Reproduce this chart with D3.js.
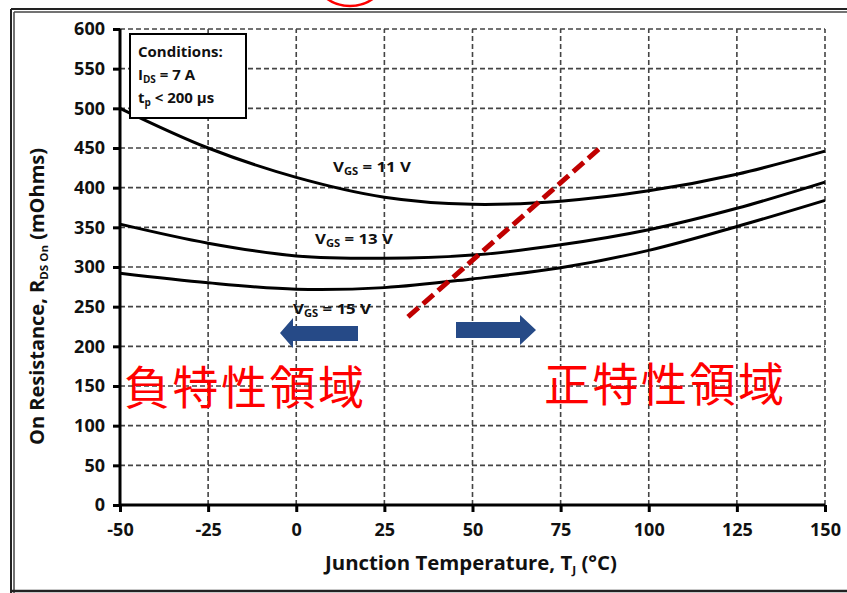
<!DOCTYPE html>
<html>
  <head>
    <meta charset="utf-8">
    <title>On Resistance vs Junction Temperature</title>
    <script src="https://d3js.org/d3.v7.min.js"></script>
  </head>
  <style>
    body { margin: 0; background: #fff; }
    .grid line { stroke: #444; stroke-width: 1.6; stroke-dasharray: 5,3; }
    .tick-label { font-family: "Open Sans", sans-serif; font-weight: bold; font-size: 18px; fill: #111; }
    .curve { fill: none; stroke: #000; stroke-width: 3; }
    .lbl { font-family: "Open Sans", sans-serif; font-weight: bold; font-size: 15px; fill: #111; }
    .title { font-family: "Open Sans", sans-serif; font-weight: bold; font-size: 19px; fill: #111; }
    .jp { font-family: "Noto Sans CJK JP", sans-serif; font-size: 46px; fill: #ff0000; }
  </style>
  <body>
    <script type="text/javascript">
        var width = 847;
        var height = 593;

        // data
        const temps = [-50, -25, 0, 25, 50, 75, 100, 125, 150];
        const vgs11 = [500, 450, 413, 388, 379, 383, 396, 417, 446];
        const vgs13 = [354, 330, 314, 311, 315, 328, 347, 374, 407];
        const vgs15 = [292, 280, 272, 274, 285, 299, 321, 351, 384];
        const yTicks = [0, 50, 100, 150, 200, 250, 300, 350, 400, 450, 500, 550, 600];
        const xTicks = [-50, -25, 0, 25, 50, 75, 100, 125, 150];
        const boundary = [[31.7, 237], [86.2, 450]];

        const svg = d3.select('body').append('svg').attr('width', width).attr('height', height);

        const x = d3.scaleLinear().domain([-50, 150]).range([120, 825]);
        const y = d3.scaleLinear().domain([0, 600]).range([505, 29]);

        // red mark cut at the top
        svg.append('ellipse').attr('cx', 350).attr('cy', -18).attr('rx', 32).attr('ry', 24)
          .attr('fill', 'none').attr('stroke', '#ff0000').attr('stroke-width', 2.5);

        // outer frame
        svg.append('line').attr('x1', 11).attr('x2', 847).attr('y1', 9).attr('y2', 9).attr('stroke', '#222').attr('stroke-width', 2);
        svg.append('line').attr('x1', 14).attr('x2', 847).attr('y1', 12).attr('y2', 12).attr('stroke', '#444').attr('stroke-width', 1.5);
        svg.append('line').attr('x1', 11).attr('x2', 11).attr('y1', 9).attr('y2', 593).attr('stroke', '#222').attr('stroke-width', 2);
        svg.append('line').attr('x1', 14).attr('x2', 14).attr('y1', 12).attr('y2', 593).attr('stroke', '#444').attr('stroke-width', 1.5);
        svg.append('line').attr('x1', 11).attr('x2', 847).attr('y1', 591).attr('y2', 591).attr('stroke', '#222').attr('stroke-width', 2.5);

        // grid
        const grid = svg.append('g').attr('class', 'grid');
        grid.selectAll('line.h').data(yTicks.slice(1)).enter().append('line')
          .attr('x1', x(-50)).attr('x2', x(150)).attr('y1', d => y(d)).attr('y2', d => y(d));
        grid.selectAll('line.v').data(xTicks.slice(1)).enter().append('line')
          .attr('y1', y(0)).attr('y2', y(600)).attr('x1', d => x(d)).attr('x2', d => x(d));

        // axes
        const gy = svg.append('g').attr('transform', 'translate(' + x(-50) + ',0)')
          .call(d3.axisLeft(y).tickValues(yTicks).tickFormat(d => String(d)).tickSize(7).tickPadding(8));
        const gx = svg.append('g').attr('transform', 'translate(0,' + y(0) + ')')
          .call(d3.axisBottom(x).tickValues(xTicks).tickFormat(d => String(d)).tickSize(7).tickPadding(11));
        [gy, gx].forEach(g => {
          g.select('.domain').attr('stroke', '#000').attr('stroke-width', 3);
          g.selectAll('.tick line').attr('stroke', '#000').attr('stroke-width', 3);
          g.selectAll('.tick text').attr('class', 'tick-label');
        });
        gy.select('.domain').attr('d', 'M0,' + y(600) + 'V' + y(0));
        gx.select('.domain').attr('d', 'M' + x(-50) + ',0H' + x(150));

        // curves
        const line = d3.line().x((d, i) => x(temps[i])).y(d => y(d)).curve(d3.curveCatmullRom);
        [vgs11, vgs13, vgs15].forEach(s => {
          svg.append('path').datum(s).attr('class', 'curve').attr('d', line);
        });

        // boundary line
        svg.append('line')
          .attr('x1', x(boundary[0][0])).attr('y1', y(boundary[0][1]))
          .attr('x2', x(boundary[1][0])).attr('y2', y(boundary[1][1]))
          .attr('stroke', '#c00000').attr('stroke-width', 5).attr('stroke-dasharray', '14,6');

        // curve labels
        function vgsLabel(tx, ty, v) {
          const t = svg.append('text').attr('class', 'lbl').attr('x', tx).attr('y', ty)
            .attr('textLength', 78).attr('lengthAdjust', 'spacingAndGlyphs');
          t.append('tspan').text('V');
          t.append('tspan').attr('font-size', '10px').attr('dy', 3).text('GS');
          t.append('tspan').attr('dy', -3).text(' = ' + v + ' V');
        }
        vgsLabel(333, 172, 11);
        vgsLabel(315, 244, 13);
        vgsLabel(293, 314, 15);

        // conditions box
        svg.append('rect').attr('x', 130).attr('y', 34).attr('width', 116).attr('height', 84)
          .attr('fill', '#fff').attr('stroke', '#000').attr('stroke-width', 2);
        svg.append('text').attr('class', 'lbl').attr('x', 138).attr('y', 57).text('Conditions:');
        const c2 = svg.append('text').attr('class', 'lbl').attr('x', 138).attr('y', 80);
        c2.append('tspan').text('I');
        c2.append('tspan').attr('font-size', '10px').attr('dy', 3).text('DS');
        c2.append('tspan').attr('dy', -3).text(' = 7 A');
        const c3 = svg.append('text').attr('class', 'lbl').attr('x', 138).attr('y', 103);
        c3.append('tspan').text('t');
        c3.append('tspan').attr('font-size', '10px').attr('dy', 3).text('p');
        c3.append('tspan').attr('dy', -3).text(' < 200 µs');

        // arrows
        const arrowColor = '#264a87';
        svg.append('path').attr('fill', arrowColor)
          .attr('d', 'M358,326 L293,326 L293,318 L280,333 L293,348 L293,341 L358,341 Z');
        svg.append('path').attr('fill', arrowColor)
          .attr('d', 'M456,322 L520,322 L520,315 L536,330 L520,345 L520,338 L456,338 Z');

        // region labels
        svg.append('text').attr('class', 'jp').attr('x', 124).attr('y', 404).attr('textLength', 240).text('負特性領域');
        svg.append('text').attr('class', 'jp').attr('x', 544).attr('y', 401).attr('textLength', 240).text('正特性領域');

        // axis titles
        const xt = svg.append('text').attr('class', 'title')
          .attr('x', 325).attr('y', 570).attr('textLength', 292).attr('lengthAdjust', 'spacingAndGlyphs');
        xt.append('tspan').text('Junction Temperature, T');
        xt.append('tspan').attr('font-size', '11px').attr('dy', 4).text('J');
        xt.append('tspan').attr('dy', -4).text(' (°C)');

        const yt = svg.append('text').attr('class', 'title')
          .attr('transform', 'translate(44,445) rotate(-90)').attr('textLength', 297).attr('lengthAdjust', 'spacingAndGlyphs');
        yt.append('tspan').text('On Resistance, R');
        yt.append('tspan').attr('font-size', '11px').attr('dy', 4).text('DS On');
        yt.append('tspan').attr('dy', -4).text(' (mOhms)');
    </script>
  </body>
</html>
